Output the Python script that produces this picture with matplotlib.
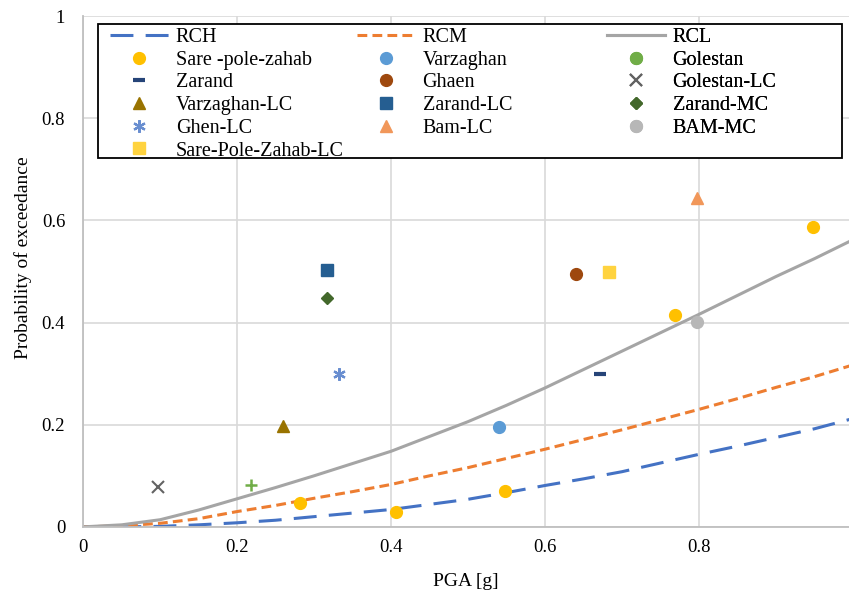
import matplotlib
matplotlib.use('Agg')
import matplotlib.pyplot as plt
from matplotlib.patches import Rectangle
from matplotlib.ticker import FuncFormatter

plt.rcParams['font.family'] = ['Liberation Serif', 'DejaVu Serif']

# fragility curves
pga = [0.0, 0.05, 0.1, 0.15, 0.2, 0.25, 0.3, 0.35, 0.4, 0.45, 0.5,
       0.55, 0.6, 0.65, 0.7, 0.75, 0.8, 0.85, 0.9, 0.95, 1.0]
rch = [0.0, 0.0, 0.001, 0.004, 0.008, 0.013, 0.020, 0.027, 0.034, 0.044, 0.054,
       0.067, 0.081, 0.094, 0.108, 0.125, 0.142, 0.158, 0.175, 0.192, 0.212]
rcm = [0.0, 0.002, 0.007, 0.016, 0.030, 0.042, 0.056, 0.069, 0.083, 0.100, 0.116,
       0.134, 0.152, 0.171, 0.190, 0.210, 0.230, 0.251, 0.273, 0.294, 0.317]
rcl = [0.0, 0.004, 0.014, 0.033, 0.055, 0.077, 0.100, 0.124, 0.148, 0.177, 0.206,
       0.238, 0.272, 0.308, 0.344, 0.380, 0.416, 0.453, 0.490, 0.525, 0.562]

# observed damage points
sare_x = [0.282, 0.406, 0.548, 0.769, 0.948]
sare_y = [0.046, 0.029, 0.071, 0.414, 0.588]
varz_x, varz_y = [0.540], [0.196]
gole_x, gole_y = [0.218], [0.082]
zara_x, zara_y = [0.671], [0.300]
ghae_x, ghae_y = [0.640], [0.496]
golc_x, golc_y = [0.097], [0.079]
valc_x, valc_y = [0.260], [0.197]
zalc_x, zalc_y = [0.317], [0.502]
zamc_x, zamc_y = [0.317], [0.449]
ghlc_x, ghlc_y = [0.333], [0.300]
balc_x, balc_y = [0.797], [0.643]
bamc_x, bamc_y = [0.797], [0.401]
splc_x, splc_y = [0.683], [0.498]

fig = plt.figure(figsize=(8.49, 5.96), dpi=100)
ax = fig.add_axes([0.098, 0.116, 0.902, 0.857])

h = {}
h['RCH'], = ax.plot(pga, rch, color='#4472C4', lw=2.2, dashes=(7.5, 4), label='RCH')
h['RCM'], = ax.plot(pga, rcm, color='#ED7D31', lw=2.2, dashes=(3.2, 1.7), label='RCM')
h['RCL'], = ax.plot(pga, rcl, color='#A5A5A5', lw=2.2, label='RCL')

ms = 8.5
h['Sare'], = ax.plot(sare_x, sare_y, marker='o', color='#FFC000', ms=ms, ls='none', label='Sare -pole-zahab')
h['Varz'], = ax.plot(varz_x, varz_y, marker='o', color='#5B9BD5', ms=ms, ls='none', label='Varzaghan')
ax.plot(gole_x, gole_y, marker='+', color='#70AD47', ms=9, mew=1.8, ls='none')
h['Gole'], = ax.plot([], [], marker='o', color='#70AD47', ms=ms, ls='none', label='Golestan')
h['Zara'], = ax.plot(zara_x, zara_y, marker='_', color='#264478', ms=9, mew=3, ls='none', label='Zarand')
h['Ghae'], = ax.plot(ghae_x, ghae_y, marker='o', color='#9E480E', ms=ms, ls='none', label='Ghaen')
h['Golc'], = ax.plot(golc_x, golc_y, marker='x', color='#636363', ms=8, mew=1.5, ls='none', label='Golestan-LC')
h['Valc'], = ax.plot(valc_x, valc_y, marker='^', color='#997300', ms=ms, ls='none', label='Varzaghan-LC')
h['Zalc'], = ax.plot(zalc_x, zalc_y, marker='s', color='#255E91', ms=8, ls='none', label='Zarand-LC')
h['Zamc'], = ax.plot(zamc_x, zamc_y, marker='D', color='#43682B', ms=6, ls='none', label='Zarand-MC')
h['Ghlc'], = ax.plot(ghlc_x, ghlc_y, marker=(6, 2, 0), color='#698ED0', ms=9, mew=1.6, ls='none', label='Ghen-LC')
h['Balc'], = ax.plot(balc_x, balc_y, marker='^', color='#F1975A', ms=ms, ls='none', label='Bam-LC')
h['Bamc'], = ax.plot(bamc_x, bamc_y, marker='o', color='#B7B7B7', ms=ms, ls='none', label='BAM-MC')
h['Splc'], = ax.plot(splc_x, splc_y, marker='s', color='#FFD33F', ms=8, ls='none', label='Sare-Pole-Zahab-LC')

ax.set_xlim(0, 0.995)
ax.set_ylim(0, 1)
ax.set_xticks([0, 0.2, 0.4, 0.6, 0.8])
ax.set_yticks([0, 0.2, 0.4, 0.6, 0.8, 1.0])
fmt = FuncFormatter(lambda v, p: '%g' % round(v, 2))
ax.xaxis.set_major_formatter(fmt)
ax.yaxis.set_major_formatter(fmt)
ax.tick_params(length=0, labelsize=13.5)
ax.tick_params(axis='x', pad=9)
ax.tick_params(axis='y', pad=13)
ax.grid(True, color='#D9D9D9', lw=1.2)
ax.set_axisbelow(True)
for s in ['top', 'right']:
    ax.spines[s].set_visible(False)
for s in ['left', 'bottom']:
    ax.spines[s].set_color('#BFBFBF')
    ax.spines[s].set_linewidth(1.3)

fig.text(466 / 849, 1 - 582 / 596, 'PGA [g]', fontsize=14, ha='center', va='center')
fig.text(23 / 849, 1 - 258 / 596, 'Probability of exceedance', fontsize=14,
         ha='center', va='center', rotation=90)

# legend: frame plus three equally spaced columns, like Excel
frame = Rectangle((0.0196, 0.722), 0.971, 0.262, transform=ax.transAxes,
                  facecolor='white', edgecolor='black', lw=1.3, zorder=4.9,
                  clip_on=False)
ax.add_patch(frame)

columns = [['RCH', 'Sare', 'Zara', 'Valc', 'Ghlc', 'Splc'],
           ['RCM', 'Varz', 'Ghae', 'Zalc', 'Balc'],
           ['RCL', 'Gole', 'Golc', 'Zamc', 'Bamc']]
col_left = [(110 - 83) / 766, (357 - 83) / 766, (607 - 83) / 766]
for keys, x0 in zip(columns, col_left):
    hs = [h[k] for k in keys]
    leg = ax.legend(hs, [x.get_label() for x in hs], loc='upper left',
                    bbox_to_anchor=(x0, 0.977), frameon=False, fontsize=14.5,
                    handlelength=2.9, handletextpad=0.35, labelspacing=0.18,
                    borderpad=0, borderaxespad=0)
    ax.add_artist(leg)

fig.savefig('out.png', dpi=100)
